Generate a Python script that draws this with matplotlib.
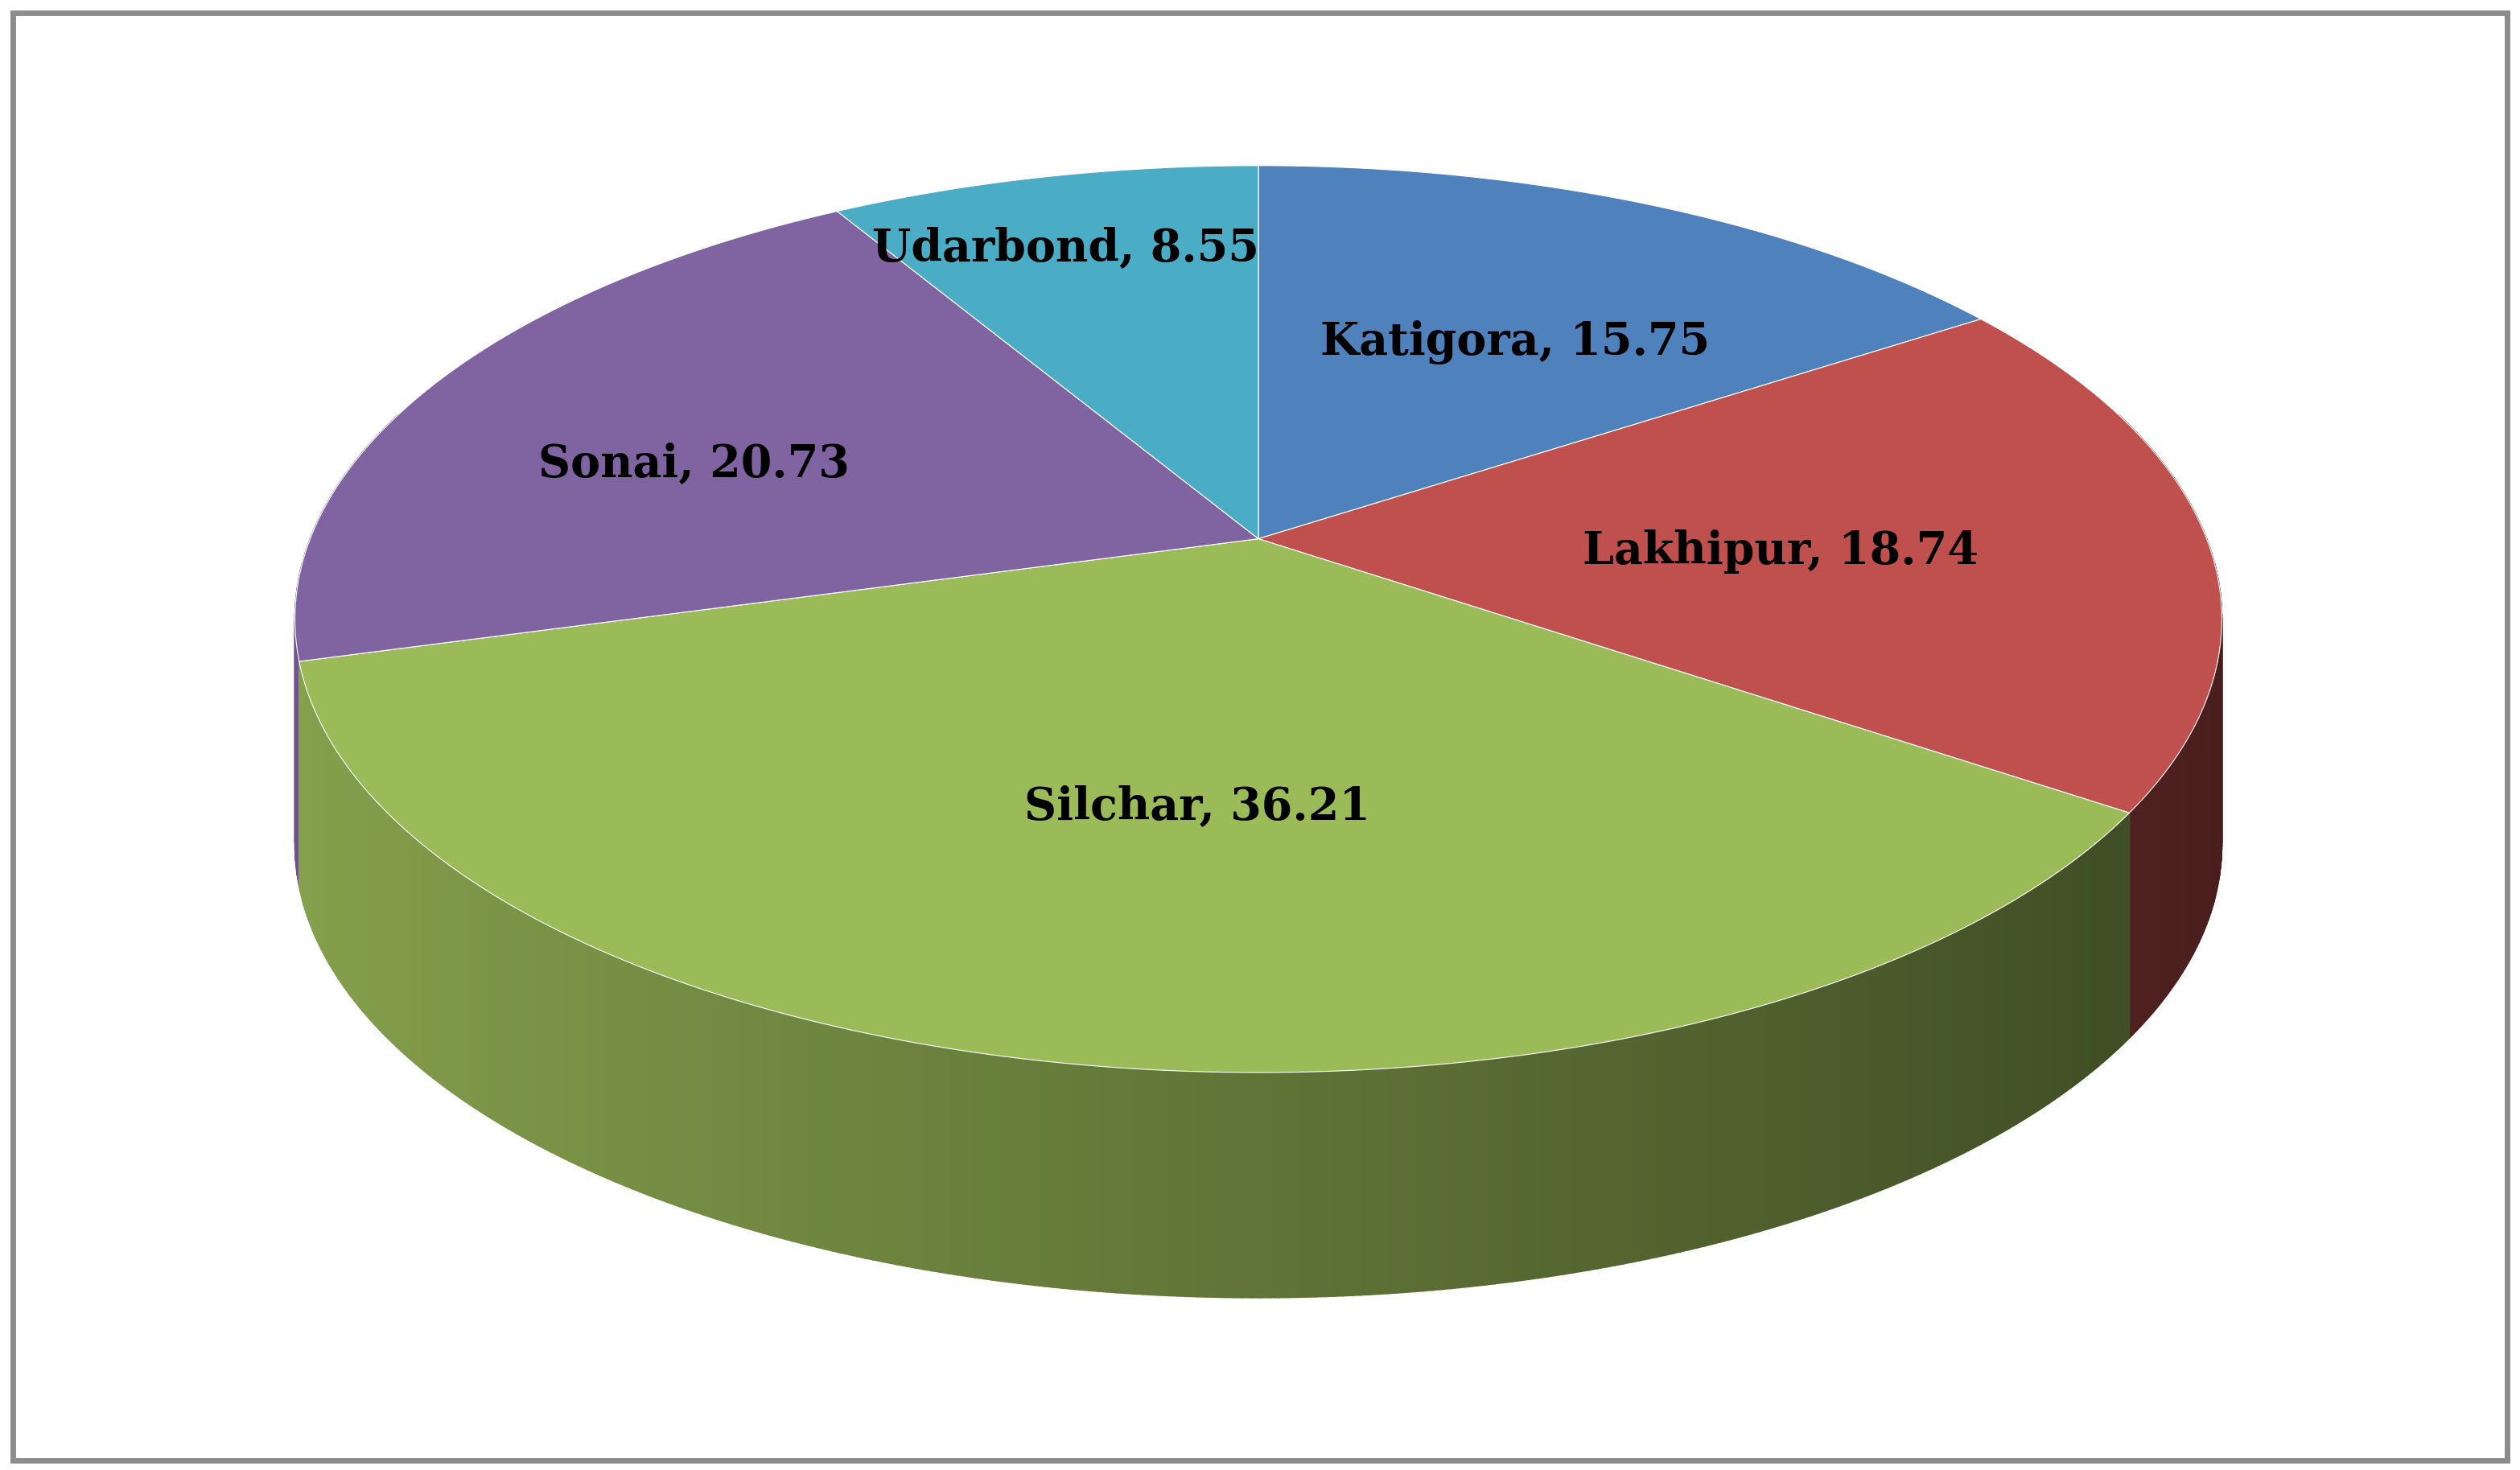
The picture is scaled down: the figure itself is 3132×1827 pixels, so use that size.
import numpy as np
import matplotlib
matplotlib.use('Agg')
import matplotlib.pyplot as plt
from matplotlib.colors import to_rgb

labels = ['Katigora', 'Lakhipur', 'Silchar', 'Sonai', 'Udarbond']
values = [15.75, 18.74, 36.21, 20.73, 8.55]
colors = ['#4F81BD', '#C0504D', '#9BBB59', '#8064A2', '#4BACC6']
# label anchor points (half-scale pixel space)
label_pos = [(943, 213), (1108, 343), (745, 502), (432, 289), (663, 155)]

W, H = 1568, 914
cx, cy = 783, 335
rx0, b, k = 590, 273.1, -0.177
depth = 140


def proj(theta):
    u = np.sin(theta)
    v = -np.cos(theta)
    d = 1 + k * v
    return cx + rx0 * u / d, cy + b * v / d


fig = plt.figure(figsize=(15.66, 9.135), dpi=200)
ax = fig.add_axes([0, 0, 1, 1])
ax.set_xlim(0, W)
ax.set_ylim(H, 0)
ax.axis('off')

fracs = np.array(values) / sum(values)
edges = np.concatenate([[0], np.cumsum(fracs)]) * 2 * np.pi

# side wall, thin strips drawn back to front
strips = []
for i in range(len(values)):
    ts = np.linspace(edges[i], edges[i + 1], max(int(fracs[i] * 800), 4))
    for t0, t1 in zip(ts[:-1], ts[1:]):
        tm = (t0 + t1) / 2
        if -np.cos(tm) < -0.3:
            continue
        strips.append((-np.cos(tm), t0, t1, i))
strips.sort()
for v, t0, t1, i in strips:
    x0, y0 = proj(t0)
    x1, y1 = proj(t1)
    u = np.sin((t0 + t1) / 2)
    shade = 0.62 - 0.25 * u
    c = np.clip(np.array(to_rgb(colors[i])) * shade, 0, 1)
    ax.fill([x0, x1, x1, x0], [y0, y1, y1 + depth, y0 + depth],
            color=c, lw=0.6, ec=c, zorder=1)

# top face
for i in range(len(values)):
    ts = np.linspace(edges[i], edges[i + 1], 300)
    xs, ys = proj(ts)
    ax.fill(np.concatenate([[cx], xs]), np.concatenate([[cy], ys]),
            color=colors[i], ec='white', lw=0.4, zorder=2)

for lab, val, (x, y) in zip(labels, values, label_pos):
    ax.text(x, y, f'{lab}, {val:.2f}', ha='center', va='center',
            fontsize=20, fontweight='bold', family='DejaVu Serif', zorder=3)

ax.add_patch(plt.Rectangle((8, 8), W - 16, H - 14, fill=False,
                           ec='#8C8C8C', lw=2.5, zorder=4))

fig.savefig('out.png', dpi=200)
